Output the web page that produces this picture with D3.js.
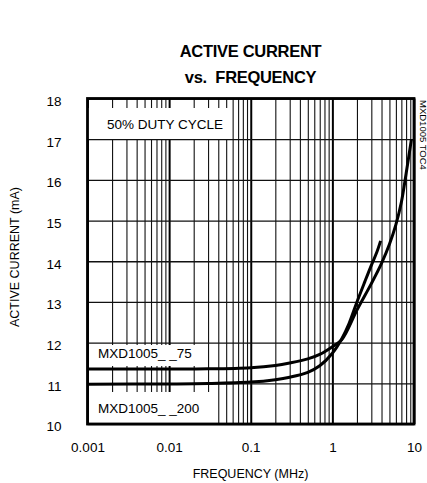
<!DOCTYPE html>
<html><head><meta charset="utf-8">
<script src="https://cdn.jsdelivr.net/npm/d3@7"></script>
<style>body{margin:0;background:#fff}svg{display:block}text{font-family:"Liberation Sans",Arial,sans-serif;fill:#000}</style>
</head><body>
<script>
const freq75 = [0.001, 0.01, 0.03, 0.1, 0.2, 0.3, 0.5, 0.7, 1, 1.3, 2, 3, 4, 5, 6, 7, 8, 9.3];
const cur75  = [11.35, 11.35, 11.355, 11.385, 11.44, 11.5, 11.6, 11.71, 11.9, 12.07, 12.8, 13.45, 13.95, 14.42, 14.9, 15.45, 16.15, 17.0];
const freq200 = [0.001, 0.01, 0.03, 0.1, 0.2, 0.3, 0.5, 0.7, 1, 1.3, 1.6, 2, 2.5, 3, 3.5, 3.9];
const cur200  = [10.98, 10.985, 10.995, 11.03, 11.09, 11.15, 11.27, 11.43, 11.74, 12.09, 12.47, 13.0, 13.5, 13.9, 14.22, 14.5];
const xTicks = [0.001, 0.01, 0.1, 1, 10];
const xTickLabels = ["0.001", "0.01", "0.1", "1", "10"];
const yTicks = [10, 11, 12, 13, 14, 15, 16, 17, 18];

const W = 427, H = 483;
const L = 87.5, R = 414, T = 98.5, B = 424;
const svg = d3.select("body").append("svg").attr("width", W).attr("height", H);
const x = d3.scaleLog().domain([0.001, 10]).range([L, R]);
const y = d3.scaleLinear().domain([10, 18]).range([B, T]);

// minor/major vertical grid
const minor = [];
for (let d = 0.001; d < 10; d *= 10) for (let k = 2; k <= 9; k++) minor.push(+(d * k).toPrecision(3));
svg.append("g").attr("transform", `translate(0,${B})`)
  .call(d3.axisBottom(x).tickValues(minor).tickSize(-(B - T)).tickFormat(""))
  .call(g => g.select(".domain").remove())
  .call(g => g.selectAll("line").attr("stroke", "#111").attr("stroke-width", 1.1));
svg.append("g").attr("transform", `translate(0,${B})`)
  .call(d3.axisBottom(x).tickValues(xTicks).tickSize(-(B - T)).tickFormat(""))
  .call(g => g.select(".domain").remove())
  .call(g => g.selectAll("line").attr("stroke", "#000").attr("stroke-width", 2));
svg.append("g").attr("transform", `translate(${L},0)`)
  .call(d3.axisLeft(y).tickValues(yTicks).tickSize(-(R - L)).tickFormat(""))
  .call(g => g.select(".domain").remove())
  .call(g => g.selectAll("line").attr("stroke", "#111").attr("stroke-width", 1.3));

// label boxes
function box(x0, y0, x1, y1) {
  svg.append("rect").attr("x", x0).attr("y", y0).attr("width", x1 - x0).attr("height", y1 - y0).attr("fill", "#fff");
}
box(L, 108, 229, 139);
box(93, 345, 203, 366);
box(93, 392, 211, B);

const line = d3.line().x(d => x(d[0])).y(d => y(d[1])).curve(d3.curveCatmullRom.alpha(0.5));
[[freq75, cur75], [freq200, cur200]].forEach(([f, c]) => {
  svg.append("path").attr("d", line(f.map((v, i) => [v, c[i]])))
    .attr("fill", "none").attr("stroke", "#000").attr("stroke-width", 3);
});

// frame
svg.append("rect").attr("x", L).attr("y", T).attr("width", R - L).attr("height", B - T)
  .attr("fill", "none").attr("stroke", "#000").attr("stroke-width", 2.8);

// in-plot labels
svg.append("text").attr("x", 107).attr("y", 129).attr("font-size", 13.5).text("50% DUTY CYCLE");
svg.append("text").attr("x", 98).attr("y", 358).attr("font-size", 13.5).text("MXD1005_ _75");
svg.append("text").attr("x", 98).attr("y", 413).attr("font-size", 13.5).text("MXD1005_ _200");

// tick labels
const ax = svg.append("g").attr("transform", `translate(0,${B})`)
  .call(d3.axisBottom(x).tickValues(xTicks).tickSize(0).tickPadding(18).tickFormat((d, i) => xTickLabels[i]));
ax.select(".domain").remove();
ax.selectAll("text").attr("font-size", 13.5).attr("font-family", '"Liberation Sans",Arial,sans-serif');
const ay = svg.append("g").attr("transform", `translate(${L},2.5)`)
  .call(d3.axisLeft(y).tickValues(yTicks).tickSize(0).tickPadding(26).tickFormat(d3.format("d")));
ay.select(".domain").remove();
ay.selectAll("text").attr("font-size", 13.5).attr("font-family", '"Liberation Sans",Arial,sans-serif');

// titles
svg.append("text").attr("x", 250.5).attr("y", 57).attr("text-anchor", "middle").attr("font-size", 16.5).attr("font-weight", "bold").attr("letter-spacing", -0.3).text("ACTIVE CURRENT");
svg.append("text").attr("x", 250.5).attr("y", 83).attr("text-anchor", "middle").attr("font-size", 16.5).attr("font-weight", "bold").attr("letter-spacing", -0.3).style("white-space", "pre").text("vs.  FREQUENCY");
svg.append("text").attr("x", 250.5).attr("y", 478).attr("text-anchor", "middle").attr("font-size", 12.5).text("FREQUENCY (MHz)");
svg.append("text").attr("transform", "translate(19,257) rotate(-90)").attr("text-anchor", "middle").attr("font-size", 12.5).text("ACTIVE CURRENT (mA)");
svg.append("text").attr("transform", "translate(419.5,100) rotate(90)").attr("text-anchor", "start").attr("font-size", 9.5).text("MXD1005 TOC4");
</script>
</body></html>
